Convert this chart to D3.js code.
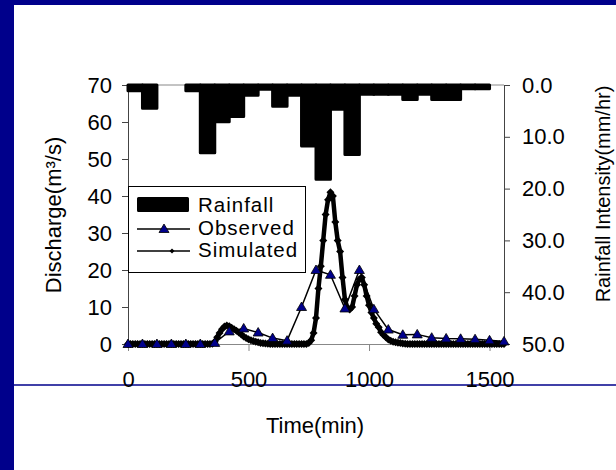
<!DOCTYPE html>
<html>
<head>
<meta charset="utf-8">
<script src="https://cdn.jsdelivr.net/npm/d3@7"></script>
<style>
    body { margin: 0; background: #fff; }
    svg { display: block; font-family: "Liberation Sans", Arial, sans-serif; }
    .axis text { font-size: 22px; fill: #000; }
    .axis path, .axis line { stroke: #444; }
    .axis.x path, .axis.x line { stroke: #888; }
    .title { font-size: 22px; fill: #000; }
    .legend text { font-size: 20.5px; letter-spacing: 1px; }
</style>
</head>
<body>
<svg id="chart" width="616" height="470"></svg>
<script>
    // rainfall, hourly blocks (start time in min, intensity mm/hr)
    var rainStart = d3.range(0, 1500, 60);
    var rainValues = [1.1, 4.5, 0, 0, 1.1, 13.1, 7.1, 6.1, 2.0, 0.8, 4.1, 2.0, 11.8,
                      18.2, 4.7, 13.4, 1.8, 1.8, 1.8, 2.8, 1.8, 2.8, 2.8, 0.7, 0.7];
    var rainStep = 60;

    // observed discharge, every 60 min
    var obsTimes = d3.range(0, 1561, 60);
    var obsValues = [0, 0, 0, 0, 0, 0, 0.3, 3.4, 4.2, 3.1, 1.6, 0.9, 10, 20, 18.7, 9.6,
                     20, 9.4, 3.9, 2.5, 2.6, 1.7, 1.5, 1.4, 1.3, 1.0, 0.7];

    // simulated discharge, every 10 min
    var simTimes = d3.range(0, 1561, 10);
    var simValues = [
        0, 0, 0, 0, 0, 0, 0, 0, 0, 0, 0, 0, 0, 0, 0, 0, 0, 0, 0, 0, 0, 0, 0, 0, 0, 0, 0, 0, 0, 0, 0, 0, 0, 0, 0,
        0.1, 0.6, 1.8, 3.0, 4.0, 4.7, 5.0, 4.8, 4.4, 4.0, 3.6, 3.1, 2.6, 2.0, 1.6, 1.3, 1.0, 0.8, 0.6, 0.45, 0.3, 0.2, 0.15, 0.1,
        0, 0, 0, 0, 0, 0, 0, 0, 0, 0, 0, 0, 0, 0, 0, 0,
        0.3, 1.0, 3, 7, 15, 21, 28, 35, 39, 41, 40, 33, 28, 25, 18, 12, 9.8, 9.3, 10, 13, 16, 17.5, 18, 16, 13,
        10.5, 8.5, 7, 5.5, 4.5, 3.2, 2.4, 1.8, 1.2, 0.9, 0.6, 0.45, 0.35, 0.25, 0.15, 0.1,
        0, 0, 0, 0, 0, 0, 0, 0, 0, 0, 0, 0, 0, 0, 0, 0, 0, 0, 0, 0, 0, 0, 0, 0, 0, 0, 0, 0, 0, 0, 0, 0, 0, 0, 0, 0, 0, 0, 0, 0, 0
    ];

    var qTicks = [0, 10, 20, 30, 40, 50, 60, 70];
    var rainTicks = [0, 10, 20, 30, 40, 50];
    var timeTicks = [0, 500, 1000, 1500];

    var margin = {top: 85, right: 112, bottom: 126, left: 128};
    var width = 616, height = 470;
    var navy = "#00008b";

    var svg = d3.select("#chart");

    // slide frame
    svg.append("rect").attr("x", 0).attr("y", 0).attr("width", 14).attr("height", height).attr("fill", navy);
    svg.append("rect").attr("x", 0).attr("y", 0).attr("width", width).attr("height", 5).attr("fill", navy);
    svg.append("line").attr("x1", 14).attr("x2", width).attr("y1", 385).attr("y2", 385)
        .attr("stroke", navy).attr("stroke-width", 1.5);

    var x = d3.scaleLinear().domain([0, 1560]).range([margin.left, width - margin.right]);
    var yQ = d3.scaleLinear().domain([0, 70]).range([height - margin.bottom, margin.top]);
    var yR = d3.scaleLinear().domain([0, 50]).range([margin.top, height - margin.bottom]);

    // axes
    svg.append("g").attr("class", "axis x")
        .attr("transform", "translate(0," + yQ(0) + ")")
        .call(d3.axisBottom(x).tickValues(timeTicks).tickFormat(d3.format("d"))
            .tickSize(7).tickSizeOuter(0).tickPadding(20));
    svg.append("line").attr("x1", x(0)).attr("x2", x(1560)).attr("y1", yR(0)).attr("y2", yR(0))
        .attr("stroke", "#888");

    svg.append("g").attr("class", "axis y")
        .attr("transform", "translate(" + x(0) + ",0)")
        .call(d3.axisLeft(yQ).tickValues(qTicks).tickSize(6).tickSizeOuter(0).tickPadding(10));

    svg.append("g").attr("class", "axis y2")
        .attr("transform", "translate(" + x(1560) + ",0)")
        .call(d3.axisRight(yR).tickValues(rainTicks).tickFormat(d3.format(".1f"))
            .tickSize(6).tickSizeOuter(0).tickPadding(12));

    // rainfall hyetograph hanging from the top
    svg.append("g").selectAll("rect")
        .data(rainStart.map(function(t, i) { return {t: t, v: rainValues[i]}; }))
        .enter().append("rect")
        .attr("x", function(d) { return x(d.t); })
        .attr("width", function(d) { return x(d.t + rainStep) - x(d.t); })
        .attr("y", yR(0))
        .attr("height", function(d) { return yR(d.v) - yR(0); })
        .attr("fill", "#000").attr("stroke", "#000").attr("stroke-width", 3)
        .attr("stroke-linejoin", "round");

    var diamond = "M0,-4L4,0L0,4L-4,0Z";
    var triangle = "M0,-5L5,3.5L-5,3.5Z";

    // simulated
    var sim = simTimes.map(function(t, i) { return {t: t, q: simValues[i]}; });
    svg.append("path").datum(sim)
        .attr("fill", "none").attr("stroke", "#000").attr("stroke-width", 4.5)
        .attr("stroke-linejoin", "round")
        .attr("d", d3.line().x(function(d) { return x(d.t); }).y(function(d) { return yQ(d.q); }));
    svg.append("g").selectAll("path").data(sim).enter().append("path")
        .attr("d", diamond)
        .attr("transform", function(d) { return "translate(" + x(d.t) + "," + yQ(d.q) + ")"; })
        .attr("fill", "#000");

    // observed
    var obs = obsTimes.map(function(t, i) { return {t: t, q: obsValues[i]}; });
    svg.append("path").datum(obs)
        .attr("fill", "none").attr("stroke", "#000").attr("stroke-width", 1.5)
        .attr("d", d3.line().x(function(d) { return x(d.t); }).y(function(d) { return yQ(d.q); }));
    svg.append("g").selectAll("path").data(obs).enter().append("path")
        .attr("d", triangle)
        .attr("transform", function(d) { return "translate(" + x(d.t) + "," + yQ(d.q) + ")"; })
        .attr("fill", navy).attr("stroke", "#000").attr("stroke-width", 0.8);

    // legend
    var lg = svg.append("g").attr("class", "legend");
    lg.append("rect").attr("x", 128.5).attr("y", 186.5).attr("width", 177).attr("height", 86)
        .attr("fill", "#fff").attr("stroke", "#000");
    lg.append("rect").attr("x", 138.5).attr("y", 198.5).attr("width", 49).attr("height", 12)
        .attr("fill", "#000").attr("stroke", "#000").attr("stroke-width", 3).attr("stroke-linejoin", "round");
    lg.append("line").attr("x1", 137).attr("x2", 190).attr("y1", 229).attr("y2", 229)
        .attr("stroke", "#000").attr("stroke-width", 1.5);
    lg.append("path").attr("d", triangle).attr("transform", "translate(164,229)")
        .attr("fill", navy).attr("stroke", "#000").attr("stroke-width", 0.8);
    lg.append("line").attr("x1", 137).attr("x2", 190).attr("y1", 251).attr("y2", 251)
        .attr("stroke", "#000").attr("stroke-width", 1.5);
    lg.append("path").attr("d", "M0,-2.5L2.5,0L0,2.5L-2.5,0Z").attr("transform", "translate(172,251)")
        .attr("fill", "#000");
    var labels = ["Rainfall", "Observed", "Simulated"];
    var labelY = [212, 235, 257];
    labels.forEach(function(s, i) {
        lg.append("text").attr("x", 198).attr("y", labelY[i]).text(s);
    });

    // titles
    svg.append("text").attr("class", "title").attr("x", 315).attr("y", 433)
        .attr("text-anchor", "middle").text("Time(min)");
    svg.append("text").attr("class", "title")
        .attr("transform", "translate(61,215) rotate(-90)")
        .attr("text-anchor", "middle").text("Discharge(m³/s)");
    svg.append("text").attr("class", "title").style("font-size", "20px")
        .attr("transform", "translate(610,194) rotate(-90)")
        .attr("text-anchor", "middle").text("Rainfall Intensity(mm/hr)");
</script>
</body>
</html>
